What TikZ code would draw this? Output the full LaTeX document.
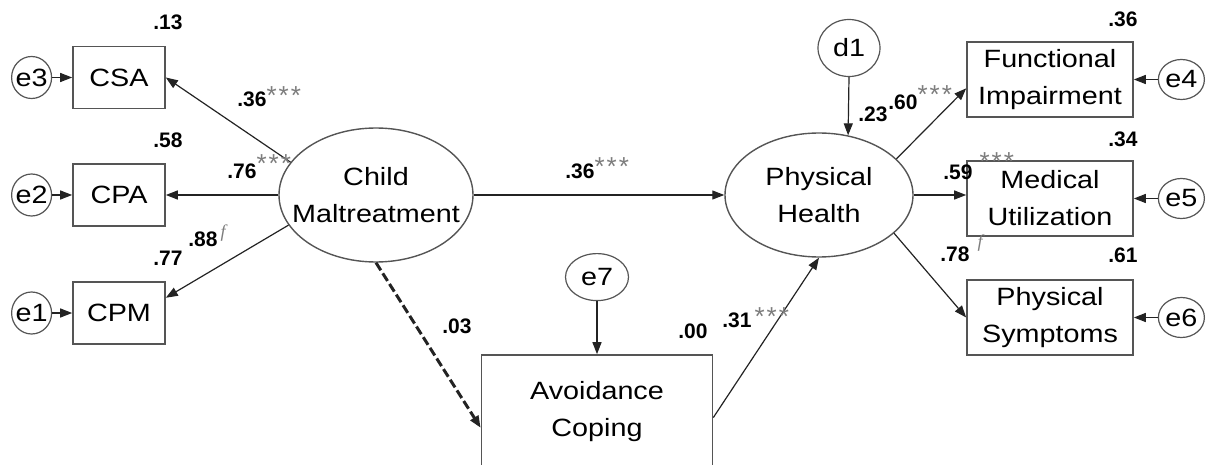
\documentclass[tikz,border=0pt]{standalone}
\usepackage{fontspec}
\setmainfont[FakeStretch=1.15]{Liberation Sans}
\newfontfamily\numfont{Liberation Sans}
\newfontfamily\serifit{Liberation Serif}
\usetikzlibrary{arrows.meta,shapes.geometric,positioning}
\definecolor{semline}{RGB}{35,35,35}
\definecolor{semedge}{RGB}{85,85,85}
\definecolor{semstar}{RGB}{125,125,125}
\tikzstyle{arrow} = [line width=0.6pt,-{Triangle[length=6pt,width=4.5pt]},color=semline]
\tikzstyle{dasharrow} = [arrow, line width=1.5pt, dash pattern=on 4.5pt off 1.8pt]
\tikzstyle{indicator} = [rectangle, draw=semedge, line width=0.8pt, minimum width=46pt, minimum height=31pt, inner sep=0, font=\fontsize{12.5}{18.5}\selectfont]
\tikzstyle{outcome} = [indicator, align=center, minimum width=83pt, minimum height=37.5pt]
\tikzstyle{latent} = [ellipse, draw=semedge, line width=0.7pt, align=center, inner xsep=-8pt, inner ysep=0, font=\fontsize{12.5}{18.5}\selectfont]
\tikzstyle{errc} = [ellipse, draw=semedge, line width=0.6pt, inner sep=0, minimum width=20pt, minimum height=21pt, font=\fontsize{12.5}{14}\selectfont]
\tikzstyle{coef} = [anchor=base west, inner sep=0, font=\numfont\bfseries\fontsize{10.5}{12}\selectfont]
\newcommand\ev[1]{\makebox[0pt]{#1}}
\newcommand\sig[1][1.5pt]{\raisebox{#1}{\color{semstar}\numfont\mdseries\fontsize{13}{13}\selectfont*\hspace{1pt}*\hspace{1pt}*}}
\newcommand\fix[1][5pt]{\raisebox{#1}{\color{semstar}\serifit\itshape\mdseries\fontsize{9}{9}\selectfont f}}

\begin{document}
\begin{tikzpicture}[x=0.5pt, y=-0.5pt]
\useasboundingbox (0,0) rectangle (1211,465);
% Maltreatment indicators
\node (csa) [indicator] at (119,77.5) {CSA};
\node (cpa) [indicator] at (119,195) {CPA};
\node (cpm) [indicator] at (119,313) {CPM};
\node (e3) [errc, left=10pt of csa] {\ev{e3}};
\node (e2) [errc, left=10pt of cpa] {\ev{e2}};
\node (e1) [errc, left=10pt of cpm] {\ev{e1}};

% Latent variables
\node (cm) [latent, minimum width=97pt, minimum height=67pt] at (376,195) {Child\\Maltreatment};
\node (ph) [latent, minimum width=94pt, minimum height=62pt] at (819,195) {Physical\\Health};
\node (d1) [errc, minimum width=31pt, minimum height=28.5pt] at (849,48) {\ev{d1}};

% Mediator
\node (ac) [indicator, align=center, minimum width=115.5pt, minimum height=56.5pt] at (597,411.5) {Avoidance\\Coping};
\node (e7) [errc, minimum width=31.5pt, minimum height=23.5pt, above=26.5pt of ac] {\ev{e7}};

% Health outcomes
\node (fi) [outcome] at (1050,79.5) {Functional\\Impairment};
\node (mu) [outcome] at (1050,198.5) {Medical\\Utilization};
\node (ps) [outcome] at (1050,317.5) {Physical\\Symptoms};
\node (e4) [errc, minimum width=23pt, minimum height=20pt, right=12pt of fi] {\ev{e4}};
\node (e5) [errc, minimum width=23pt, minimum height=20pt, right=12pt of mu] {\ev{e5}};
\node (e6) [errc, minimum width=23pt, minimum height=20pt, right=12pt of ps] {\ev{e6}};

% Paths
\draw[arrow] (e3) -- (csa);
\draw[arrow] (e2) -- (cpa);
\draw[arrow] (e1) -- (cpm);
\draw[arrow] (cm.159) -- (csa.east);
\draw[arrow] (cm) -- (cpa);
\draw[arrow] (cm.199) -- (cpm.18);
\draw[arrow] (cm) -- (ph);
\draw[dasharrow] (cm.south) -- (ac.188);
\draw[arrow] (e7) -- (ac);
\draw[arrow] (ac.357) -- (ph.south);
\draw[arrow] (d1.south) -- (ph.64);
\draw[arrow] (ph.25) -- (fi.186);
\draw[arrow] (ph.east) -- (ph.east -| mu.west);
\draw[arrow] (ph.333) -- (ps.west);
\draw[arrow] (e4) -- (fi);
\draw[arrow] (e5) -- (mu);
\draw[arrow] (e6) -- (ps);

% Estimates
\node (r13) [coef] at (153,30) {.13};
\node (r58) [coef] at (153,148) {.58};
\node (r77) [coef] at (153,265) {.77};
\node (l36) [coef] at (237,107) {.36\sig};
\node (l76) [coef] at (227,178) {.76\sig[2.5pt]};
\node (l88) [coef] at (188,247) {.88\hspace{1.5pt}\fix};
\node (b36) [coef] at (565,178) {.36\sig};
\node (b03) [coef] at (442,333) {.03};
\node (r00) [coef] at (678,338) {.00};
\node (b31) [coef] at (722,327) {.31\hspace{1.5pt}\sig[1pt]};
\node (r23) [coef] at (858,122) {.23};
\node (l60) [coef] at (888,110) {.60\sig[3pt]};
\node (r36) [coef] at (1108,27) {.36};
\node (r34) [coef] at (1108,147) {.34};
\node (l59) [coef] at (943,180) {.59\hspace{3.5pt}\sig[5pt]};
\node (l78) [coef] at (940,262) {.78\hspace{4pt}\fix[7pt]};
\node (r61) [coef] at (1108,263) {.61};
\end{tikzpicture}
\end{document}
